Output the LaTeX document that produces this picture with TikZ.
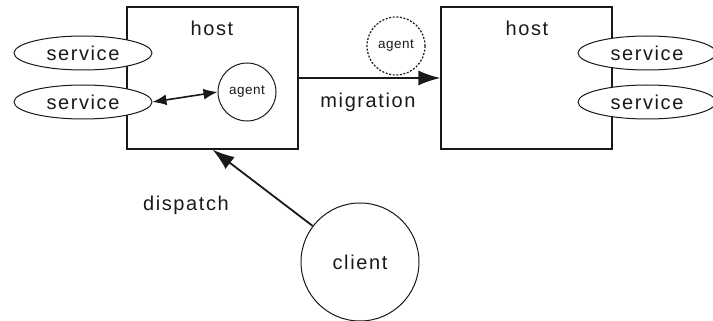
\documentclass[tikz,border=0pt]{standalone}
\usepackage{fontspec}
\setmainfont{Liberation Sans}
\usetikzlibrary{shapes.geometric,arrows.meta}

\tikzset{
  hostbox/.style={rectangle, draw, line width=1.2pt, minimum width=171pt, minimum height=142pt},
  service/.style={ellipse, draw, fill=white, line width=1pt, minimum width=138pt, minimum height=34pt, inner sep=0pt},
  agent/.style={circle, draw, line width=1pt, minimum size=58pt, inner sep=0pt, font=\fontsize{13.5}{15}\selectfont\addfontfeature{LetterSpace=4}},
  client/.style={circle, draw, line width=1pt, minimum size=118pt, inner sep=0pt},
  flow/.style={line width=1.8pt, -{Latex[length=22pt,width=15pt]}},
}

\begin{document}
\begin{tikzpicture}[x=1pt, y=-1pt, black!90, text=black!90,
    every node/.style={font=\fontsize{20}{22}\selectfont\addfontfeature{LetterSpace=8}}]
    \useasboundingbox (0,0) rectangle (713,321);

    % the two hosts
    \node at (212.5,78) [hostbox] (HostLeft) {};
    \node at (526.5,78) [hostbox] (HostRight) {};
    \node at (212,28) (HostLeftLabel) {host};
    \node at (527,28) (HostRightLabel) {host};

    % services sitting on the host borders
    \node at (83,53) [service] (ServiceLeftA) {service};
    \node at (83,102) [service] (ServiceLeftB) {service};
    \node at (647,53) [service] (ServiceRightA) {service};
    \node at (647,102) [service] (ServiceRightB) {service};

    % agents
    \node at (247,92) [agent] (AgentLeft) {agent};
    \node at (396,46) [agent, line width=1.2pt, dash pattern=on 2pt off 1.6pt] (AgentMoving) {agent};

    \node at (360,262) [client] (Client) {client};

    \draw[line width=1.6pt, {Latex[length=14pt,width=11pt]}-{Latex[length=14pt,width=11pt]}] (ServiceLeftB.east) -- (AgentLeft.west);
    \draw[flow] (HostLeft.east) -- (HostRight.west);
    \draw[flow] (Client) -- (HostLeft.south);

    \node at (368,102) (Migration) {migration};
    \node at (186,205) (Dispatch) {dispatch};
\end{tikzpicture}
\end{document}
